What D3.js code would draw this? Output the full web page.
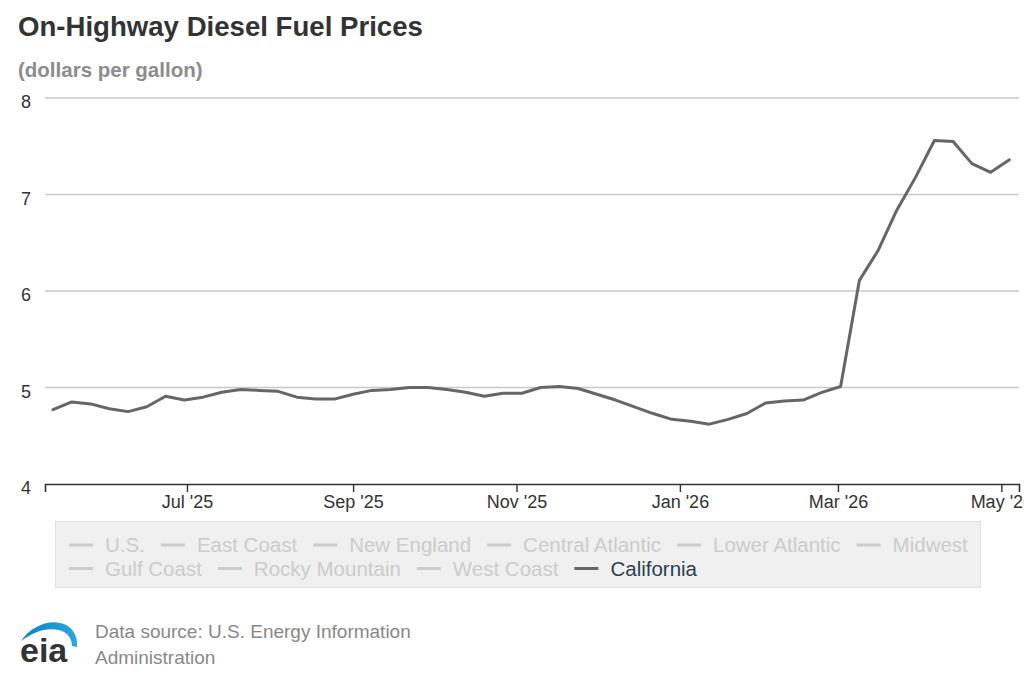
<!DOCTYPE html>
<html>
<head>
<meta charset="utf-8">
<script src="https://cdn.jsdelivr.net/npm/d3@7"></script>
<style>
  body { margin: 0; background: #fff; }
  svg { display: block; font-family: "Liberation Sans", Arial, sans-serif; }
</style>
</head>
<body>
<div id="chart"></div>
<script>
// weekly California on-highway diesel price, $/gal
const firstWeek = new Date(2025, 4, 12)
const lastWeek = new Date(2026, 4, 4)
const california = [
  4.77, 4.85, 4.83, 4.78, 4.75, 4.80, 4.91, 4.87, 4.90, 4.95,
  4.98, 4.97, 4.96, 4.90, 4.88, 4.88, 4.93, 4.97, 4.98, 5.00,
  5.00, 4.98, 4.95, 4.91, 4.94, 4.94, 5.00, 5.01, 4.99, 4.93,
  4.87, 4.80, 4.73, 4.67, 4.65, 4.62, 4.67, 4.73, 4.84, 4.86,
  4.87, 4.95, 5.01, 6.11, 6.42, 6.84, 7.18, 7.56, 7.55, 7.32,
  7.23, 7.36
]
const yTicks = [4, 5, 6, 7, 8]
const legendNames = ["U.S.", "East Coast", "New England", "Central Atlantic", "Lower Atlantic",
  "Midwest", "Gulf Coast", "Rocky Mountain", "West Coast", "California"]
const shownSeries = "California"

const width = 1024
const height = 678

const weeks = d3.timeMonday.range(firstWeek, d3.timeDay.offset(lastWeek, 1))
const data = weeks.map((d, i) => ({date: d, value: california[i]}))

const svg = d3.select("#chart").append("svg")
    .attr("width", width)
    .attr("height", height)
    .attr("viewBox", [0, 0, width, height])

// scales
const x = d3.scaleTime()
    .domain([new Date(2025, 4, 9), new Date(2026, 4, 7, 14)])
    .range([45, 1019])
const y = d3.scaleLinear()
    .domain([4, 8])
    .range([484, 98])

// title + units
svg.append("text")
    .attr("x", 18).attr("y", 36)
    .attr("font-size", 27.6).attr("font-weight", "bold")
    .attr("fill", "#333")
    .text("On-Highway Diesel Fuel Prices")
svg.append("text")
    .attr("x", 18).attr("y", 77)
    .attr("font-size", 20.5).attr("font-weight", "bold")
    .attr("fill", "#8c8c8c")
    .text("(dollars per gallon)")

// gridlines
svg.append("g")
    .selectAll("line")
    .data(yTicks.filter(d => d > 4))
    .join("line")
        .attr("x1", 45).attr("x2", 1019)
        .attr("y1", d => y(d)).attr("y2", d => y(d))
        .attr("stroke", "#c8c8c8")
        .attr("stroke-width", 1.3)

// y labels
svg.append("g")
    .selectAll("text")
    .data(yTicks)
    .join("text")
        .attr("x", 31)
        .attr("y", d => y(d) + 10)
        .attr("text-anchor", "end")
        .attr("font-size", 18)
        .attr("fill", "#333")
        .text(d => d)

// x axis
const xAxis = svg.append("g")
    .attr("transform", `translate(0,${y(4)})`)
    .call(d3.axisBottom(x)
        .ticks(d3.timeMonth.every(2))
        .tickFormat(d3.timeFormat("%b '%y"))
        .tickSize(8)
        .tickPadding(3))
xAxis.select(".domain")
    .attr("stroke", "#333")
    .attr("stroke-width", 1.6)
xAxis.selectAll(".tick line")
    .attr("stroke", "#333")
    .attr("stroke-width", 1.4)
xAxis.selectAll(".tick text")
    .attr("font-size", 18)
    .attr("font-family", "\"Liberation Sans\", Arial, sans-serif")
    .attr("fill", "#333")

// the line
const line = d3.line()
    .x(d => x(d.date))
    .y(d => y(d.value))

svg.append("path")
    .datum(data)
    .attr("fill", "none")
    .attr("stroke", "#666")
    .attr("stroke-width", 3)
    .attr("stroke-linejoin", "round")
    .attr("stroke-linecap", "round")
    .attr("d", line)

// legend box, other regions are switched off (grey)
svg.append("rect")
    .attr("x", 55.5).attr("y", 521.5)
    .attr("width", 925).attr("height", 66)
    .attr("fill", "#f0f0f0")
    .attr("stroke", "#e2e2e2")

const legend = svg.append("g")
let lx = 69
let row = 0
legendNames.forEach((name, i) => {
    if (i == 6) { lx = 69; row = 1 }
    const ly = 545 + row * 23.5
    const on = name == shownSeries
    legend.append("line")
        .attr("x1", lx).attr("x2", lx + 24)
        .attr("y1", ly).attr("y2", ly)
        .attr("stroke", on ? "#666" : "#cccccc")
        .attr("stroke-width", 3)
    const t = legend.append("text")
        .attr("x", lx + 36)
        .attr("y", ly + 7)
        .attr("font-size", 20.5)
        .attr("fill", on ? "#2d3e50" : "#cccccc")
        .text(name)
    lx += 36 + t.node().getComputedTextLength() + 16
})

// eia logo
const logo = svg.append("g")
const grad = svg.append("defs").append("linearGradient")
    .attr("id", "swoosh")
grad.append("stop").attr("offset", "0%").attr("stop-color", "#0b7fc0")
grad.append("stop").attr("offset", "100%").attr("stop-color", "#29a8e0")
logo.append("path")
    .attr("d", "M21,641 C30,628 46,620 60,623 C71,625 78,634 77,647 L72,646 C72,638 67,632 59,630 C46,627 33,632 21,641 Z")
    .attr("fill", "url(#swoosh)")
logo.append("text")
    .attr("x", 20).attr("y", 662)
    .attr("font-size", 34)
    .attr("font-weight", "bold")
    .attr("fill", "#333")
    .text("eia")

// source
svg.append("text")
    .attr("x", 95).attr("y", 638)
    .attr("font-size", 19)
    .attr("fill", "#888")
    .text("Data source: U.S. Energy Information")
svg.append("text")
    .attr("x", 95).attr("y", 664)
    .attr("font-size", 19)
    .attr("fill", "#888")
    .text("Administration")
</script>
</body>
</html>
